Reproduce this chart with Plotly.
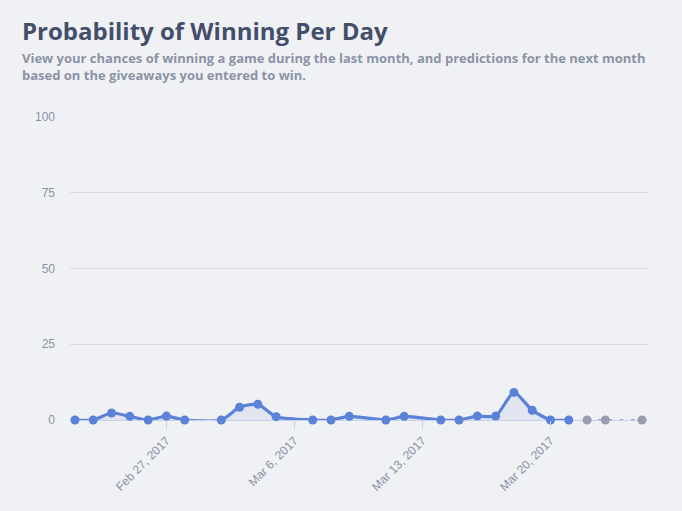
import plotly.graph_objects as go

# ---- data ----
dates = ["2017-02-22", "2017-02-23", "2017-02-24", "2017-02-25", "2017-02-26",
         "2017-02-27", "2017-02-28", "2017-03-01", "2017-03-02", "2017-03-03",
         "2017-03-04", "2017-03-05", "2017-03-06", "2017-03-07", "2017-03-08",
         "2017-03-09", "2017-03-10", "2017-03-11", "2017-03-12", "2017-03-13",
         "2017-03-14", "2017-03-15", "2017-03-16", "2017-03-17", "2017-03-18",
         "2017-03-19", "2017-03-20", "2017-03-21"]
probability = [0, 0, 2.3, 1.2, 0, 1.3, 0, None, 0, 4.2,
               5.2, 1.1, None, 0, 0, 1.2, None, 0, 1.2, None,
               0, 0, 1.3, 1.3, 9.1, 3.2, 0, 0]

forecast_dates = ["2017-03-22", "2017-03-23", "2017-03-24", "2017-03-25"]
forecast_values = [0, 0, None, 0]

tick_dates = ["2017-02-27", "2017-03-06", "2017-03-13", "2017-03-20"]
tick_labels = ["Feb 27, 2017", "Mar 6, 2017", "Mar 13, 2017", "Mar 20, 2017"]
y_ticks = [0, 25, 50, 75, 100]

title_text = "Probability of Winning Per Day"
subtitle_text = ("View your chances of winning a game during the last month, and predictions for the next month"
                 "<br>based on the giveaways you entered to win.")

BLUE = "#5b82d8"
GRAY = "#9a9db0"
BG = "#f0f1f5"

PW, PH, ML, MT = 578, 303, 70, 117

fig = go.Figure()

fig.add_trace(go.Scatter(
    x=dates, y=probability, mode="lines+markers",
    connectgaps=True,
    line=dict(color=BLUE, width=3.2, shape="spline", smoothing=0.6),
    marker=dict(color=BLUE, size=9),
    fill="tozeroy", fillcolor="rgba(205,215,235,0.45)",
    cliponaxis=False, showlegend=False,
))

fig.add_trace(go.Scatter(
    x=forecast_dates, y=forecast_values, mode="lines+markers",
    connectgaps=True,
    line=dict(color=GRAY, width=2, dash="3px,8px"),
    marker=dict(color=GRAY, size=9),
    cliponaxis=False, showlegend=False,
))

fig.update_layout(
    width=682, height=511,
    paper_bgcolor=BG, plot_bgcolor=BG,
    margin=dict(l=ML, r=34, t=MT, b=91),
    font=dict(family="Arial, Liberation Sans, sans-serif", color="#8a92a6", size=12),
    xaxis=dict(
        type="date",
        range=["2017-02-21 17:30", "2017-03-25 07:54"],
        tickvals=tick_dates, ticktext=tick_labels,
        tickangle=-45, ticks="outside", ticklen=8, tickcolor="#c3d2ea",
        showgrid=False, zeroline=False, showline=False,
        tickfont=dict(size=12, color="#8a92a6"),
    ),
    yaxis=dict(
        range=[0, 100], tickvals=y_ticks,
        showgrid=True, gridcolor="#d8dbe3", gridwidth=1,
        zeroline=True, zerolinecolor="#c3d2ea", zerolinewidth=1,
        showline=False, ticks="", ticklabelstandoff=14,
        tickfont=dict(size=12, color="#8a92a6"),
    ),
    annotations=[
        dict(text=title_text, xref="paper", yref="paper",
             x=(20 - ML) / PW, y=1 + (MT - 12) / PH, xanchor="left", yanchor="top",
             showarrow=False, align="left",
             font=dict(family="Open Sans", size=24, color="#424e6a", weight="bold")),
        dict(text=subtitle_text, xref="paper", yref="paper",
             x=(20 - ML) / PW, y=1 + (MT - 47) / PH, xanchor="left", yanchor="top",
             showarrow=False, align="left",
             font=dict(family="Open Sans", size=13, color="#8b93a5", weight="bold")),
    ],
)

fig.write_html("out.html",
               config={"displayModeBar": False},
               post_script="document.body.style.margin='0';document.body.style.background='#f0f1f5';")
